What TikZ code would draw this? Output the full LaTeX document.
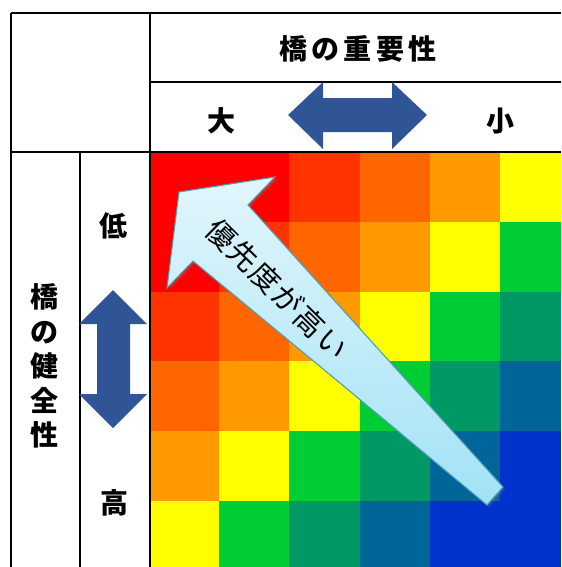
\documentclass[tikz,border=0pt]{standalone}
\usepackage{fontspec}
\newfontfamily\jp{Noto Sans CJK JP}
\usetikzlibrary{shadows}
\definecolor{c0}{HTML}{FF0000}
\definecolor{c1}{HTML}{FF3300}
\definecolor{c2}{HTML}{FF6600}
\definecolor{c3}{HTML}{FF9900}
\definecolor{c4}{HTML}{FFFF00}
\definecolor{c5}{HTML}{00CC33}
\definecolor{c6}{HTML}{009966}
\definecolor{c7}{HTML}{006699}
\definecolor{c8}{HTML}{0033CC}
\definecolor{arrowblue}{HTML}{2F5597}
\definecolor{arrowedge}{HTML}{4E9FB8}
\definecolor{arrowlight}{HTML}{E2F6FC}
\definecolor{arrowdark}{HTML}{A2E2F6}
\begin{document}
\begin{tikzpicture}[x=0.75pt,y=-0.75pt,
  tline/.style={black,line width=1.15pt},
  lbl/.style={font=\jp\bfseries\fontsize{21pt}{25pt}\selectfont, inner sep=0pt},
  dblarrow/.style={fill=arrowblue}]
\useasboundingbox (0,0) rectangle (561,567);
\fill[white] (0,0) rectangle (561,567);
% colour grid
\foreach \r/\ya/\yb in {0/153/222,1/222/292,2/292/361,3/361/431,4/431/501,5/501/567}{
  \foreach \c/\xa/\xb in {0/151/219,1/219/289,2/289/360,3/360/430,4/430/500,5/500/561}{
    \pgfmathtruncatemacro\lv{max(0,min(8,\r+\c-1))}
    \fill[c\lv] (\xa-0.3,\ya-0.3) rectangle (\xb+0.3,\yb+0.3);
  }
}
% table lines
\draw[tline] (11,13) -- (561,13);
\draw[tline] (11,13) -- (11,567);
\draw[tline,line width=1.5pt] (150,13) -- (150,567);
\draw[tline] (150,82) -- (561,82);
\draw[tline,line width=1.4pt] (11,152) -- (561,152);
\draw[tline] (80,152) -- (80,567);
% double arrows
\fill[dblarrow] (288,115) -- (323,82) -- (323,98) -- (392,98) -- (392,82) -- (427,115)
  -- (392,149) -- (392,132) -- (323,132) -- (323,149) -- cycle;
\fill[dblarrow] (113,290) -- (147,324) -- (130,324) -- (130,394) -- (147,394) -- (113,428)
  -- (79,394) -- (97,394) -- (97,324) -- (79,324) -- cycle;
% big priority arrow
\filldraw[draw=arrowedge, line width=0.8pt, top color=arrowlight, bottom color=arrowdark,
  drop shadow={opacity=0.3, shadow xshift=1.5pt, shadow yshift=-1.5pt}]
  (179,192) -- (275,177) -- (248,205) -- (503,487) -- (487,505) -- (193,261) -- (167,288) -- cycle;
% texts
\node[lbl, font=\jp\bfseries\fontsize{21pt}{25pt}\selectfont\addfontfeature{LetterSpace=15}] (title) at (358,49) {橋の重要性};
\node[lbl] (big) at (221,121) {大};
\node[lbl] (small) at (500,121) {小};
\node[lbl] (low) at (113,226) {低};
\node[lbl] (high) at (114,503) {高};
\node[lbl, align=center, font=\jp\bfseries\fontsize{21pt}{25.9pt}\selectfont] (health) at (45,366) {橋\\の\\健\\全\\性};
\node[inner sep=0pt, rotate=-44.5, font=\jp\fontsize{22pt}{26pt}\selectfont\addfontfeature{LetterSpace=6}] (prio) at (277,289) {優先度が高い};
\end{tikzpicture}
\end{document}
